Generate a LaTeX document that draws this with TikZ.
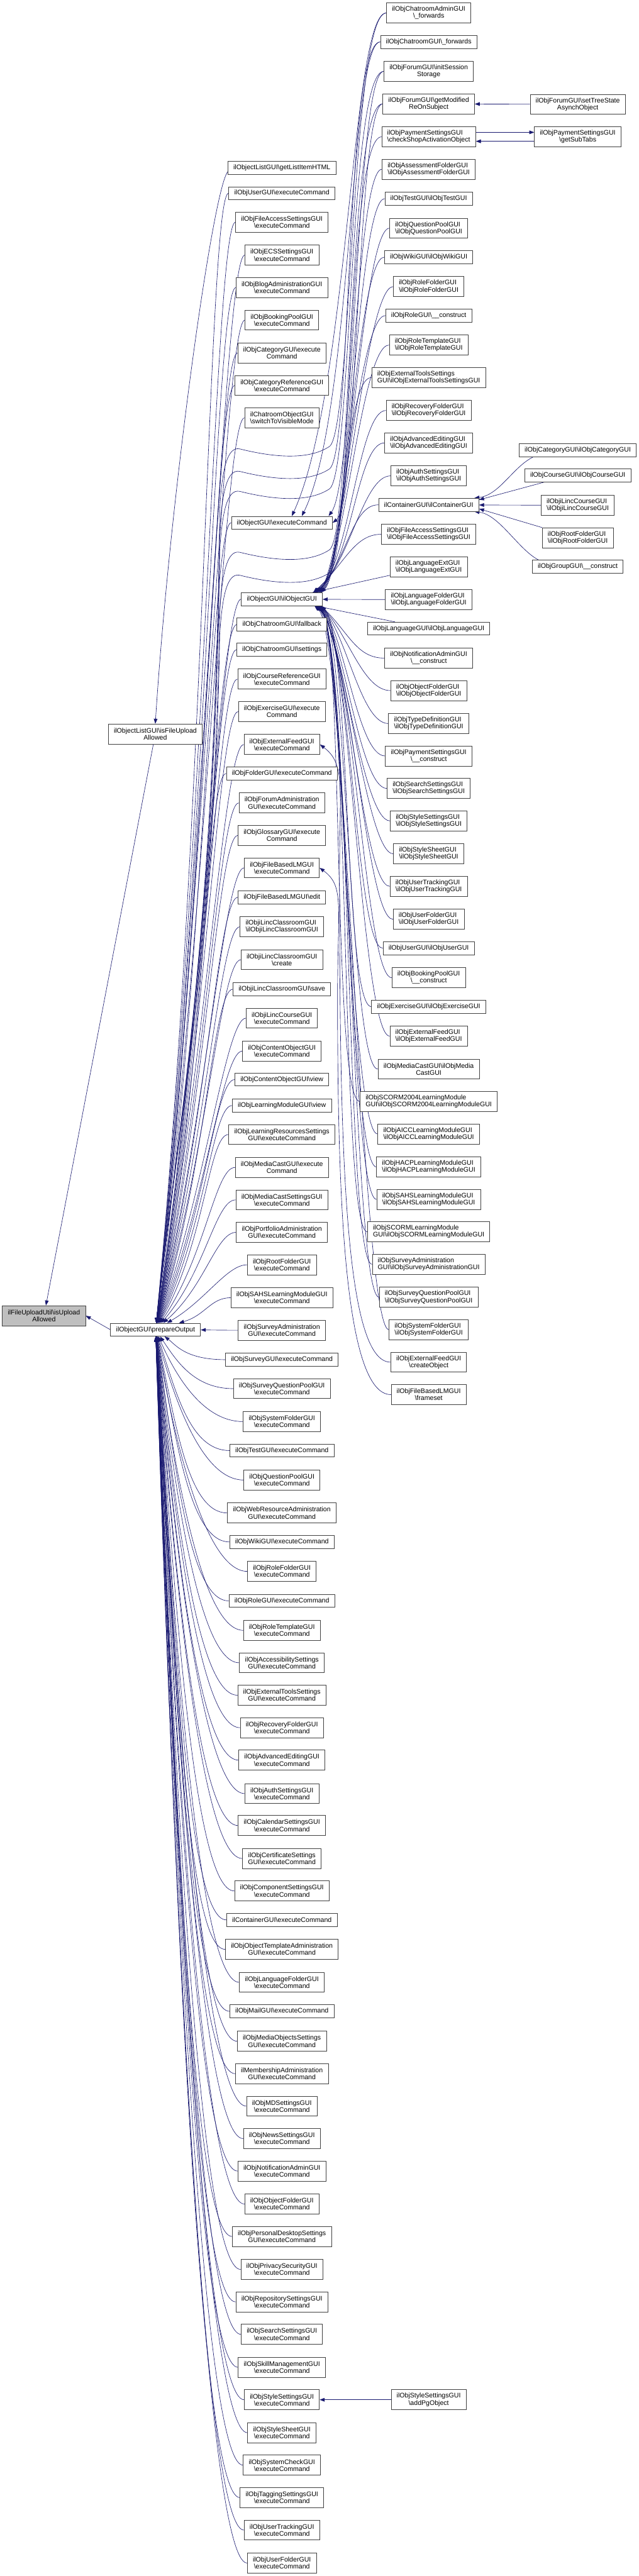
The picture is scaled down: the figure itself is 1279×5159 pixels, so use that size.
\documentclass[tikz,border=0pt]{standalone}
\usepackage{fontspec}
\setmainfont{Liberation Sans}
\usetikzlibrary{arrows.meta,calc}
\definecolor{edgeblue}{RGB}{25,25,112}
\newcommand\BSL{\textbackslash}
\pgfdeclarelayer{bg}
\pgfsetlayers{bg,main}
\begin{document}
\begin{tikzpicture}[x=0.75pt,y=-0.75pt,
  nb/.style={draw=black!75, line width=0.8pt, fill=white, font=\fontsize{10}{10.5}\selectfont, inner xsep=8.25pt, inner ysep=2pt, minimum height=19.5pt, align=center},
  nb2/.style={nb, minimum height=30pt},
  nb2l/.style={nb2, align=left},
  conn/.style={draw=edgeblue, line width=0.6pt, -{Triangle[length=7.5pt,width=5.5pt]}}]
\useasboundingbox (0,0) rectangle (1279,5159);
% ---- rank 0 / 1
\node[nb2, fill=black!25] (fU) at (88,2635) {ilFileUploadUtil\BSL isUpload\\Allowed};
\node[nb2] (fA) at (311,1470) {ilObjectListGUI\BSL isFileUpload\\Allowed};
\node[nb] (pO) at (311.5,2663) {ilObjectGUI\BSL prepareOutput};
% ---- rank 2
\node[nb] (n1) at (564.5,336) {ilObjectListGUI\BSL getListItemHTML};
\node[nb] (n2) at (564.5,387) {ilObjUserGUI\BSL executeCommand};
\node[nb2] (n3) at (564.5,445) {ilObjFileAccessSettingsGUI\\\BSL executeCommand};
\node[nb2] (n4) at (564.5,511) {ilObjECSSettingsGUI\\\BSL executeCommand};
\node[nb2] (n5) at (564.5,576) {ilObjBlogAdministrationGUI\\\BSL executeCommand};
\node[nb2] (n6) at (564.5,641) {ilObjBookingPoolGUI\\\BSL executeCommand};
\node[nb2] (n7) at (564.5,707) {ilObjCategoryGUI\BSL execute\\Command};
\node[nb2] (n8) at (564.5,772) {ilObjCategoryReferenceGUI\\\BSL executeCommand};
\node[nb2] (n9) at (564.5,837) {ilChatroomObjectGUI\\\BSL switchToVisibleMode};
\node[nb] (n10) at (564.5,1047) {ilObjectGUI\BSL executeCommand};
\node[nb] (n11) at (564.5,1200) {ilObjectGUI\BSL ilObjectGUI};
\node[nb] (n12) at (564.5,1251) {ilObjChatroomGUI\BSL fallback};
\node[nb] (n13) at (564.5,1301) {ilObjChatroomGUI\BSL settings};
\node[nb2] (n14) at (564.5,1360) {ilObjCourseReferenceGUI\\\BSL executeCommand};
\node[nb2] (n15) at (564.5,1425) {ilObjExerciseGUI\BSL execute\\Command};
\node[nb2] (n16) at (564.5,1491) {ilObjExternalFeedGUI\\\BSL executeCommand};
\node[nb] (n17) at (564.5,1549) {ilObjFolderGUI\BSL executeCommand};
\node[nb2] (n18) at (564.5,1608) {ilObjForumAdministration\\GUI\BSL executeCommand};
\node[nb2] (n19) at (564.5,1673) {ilObjGlossaryGUI\BSL execute\\Command};
\node[nb2] (n20) at (564.5,1738) {ilObjFileBasedLMGUI\\\BSL executeCommand};
\node[nb] (n21) at (564.5,1797) {ilObjFileBasedLMGUI\BSL edit};
\node[nb2l] (n22) at (564.5,1856) {ilObjiLincClassroomGUI\\\BSL ilObjiLincClassroomGUI};
\node[nb2] (n23) at (564.5,1922) {ilObjiLincClassroomGUI\\\BSL create};
\node[nb] (n24) at (564.5,1981) {ilObjiLincClassroomGUI\BSL save};
\node[nb2] (n25) at (564.5,2039) {ilObjiLincCourseGUI\\\BSL executeCommand};
\node[nb2] (n26) at (564.5,2105) {ilObjContentObjectGUI\\\BSL executeCommand};
\node[nb] (n27) at (564.5,2162) {ilObjContentObjectGUI\BSL view};
\node[nb] (n28) at (564.5,2214) {ilObjLearningModuleGUI\BSL view};
\node[nb2] (n29) at (564.5,2272) {ilObjLearningResourcesSettings\\GUI\BSL executeCommand};
\node[nb2] (n30) at (564.5,2338) {ilObjMediaCastGUI\BSL execute\\Command};
\node[nb2] (n31) at (564.5,2403) {ilObjMediaCastSettingsGUI\\\BSL executeCommand};
\node[nb2] (n32) at (564.5,2468) {ilObjPortfolioAdministration\\GUI\BSL executeCommand};
\node[nb2] (n33) at (564.5,2533) {ilObjRootFolderGUI\\\BSL executeCommand};
\node[nb2] (n34) at (564.5,2599) {ilObjSAHSLearningModuleGUI\\\BSL executeCommand};
\node[nb2] (n35) at (564.5,2664) {ilObjSurveyAdministration\\GUI\BSL executeCommand};
\node[nb] (n36) at (564.5,2723) {ilObjSurveyGUI\BSL executeCommand};
\node[nb2] (n37) at (564.5,2781) {ilObjSurveyQuestionPoolGUI\\\BSL executeCommand};
\node[nb2] (n38) at (564.5,2847) {ilObjSystemFolderGUI\\\BSL executeCommand};
\node[nb] (n39) at (564.5,2905) {ilObjTestGUI\BSL executeCommand};
\node[nb2] (n40) at (564.5,2964) {ilObjQuestionPoolGUI\\\BSL executeCommand};
\node[nb2] (n41) at (564.5,3030) {ilObjWebResourceAdministration\\GUI\BSL executeCommand};
\node[nb] (n42) at (564.5,3088) {ilObjWikiGUI\BSL executeCommand};
\node[nb2] (n43) at (564.5,3147) {ilObjRoleFolderGUI\\\BSL executeCommand};
\node[nb] (n44) at (564.5,3206) {ilObjRoleGUI\BSL executeCommand};
\node[nb2] (n45) at (564.5,3265) {ilObjRoleTemplateGUI\\\BSL executeCommand};
\node[nb2] (n46) at (564.5,3330) {ilObjAccessibilitySettings\\GUI\BSL executeCommand};
\node[nb2] (n47) at (564.5,3395) {ilObjExternalToolsSettings\\GUI\BSL executeCommand};
\node[nb2] (n48) at (564.5,3460) {ilObjRecoveryFolderGUI\\\BSL executeCommand};
\node[nb2] (n49) at (564.5,3525) {ilObjAdvancedEditingGUI\\\BSL executeCommand};
\node[nb2] (n50) at (564.5,3592) {ilObjAuthSettingsGUI\\\BSL executeCommand};
\node[nb2] (n51) at (564.5,3656) {ilObjCalendarSettingsGUI\\\BSL executeCommand};
\node[nb2] (n52) at (564.5,3722) {ilObjCertificateSettings\\GUI\BSL executeCommand};
\node[nb2] (n53) at (564.5,3787) {ilObjComponentSettingsGUI\\\BSL executeCommand};
\node[nb] (n54) at (564.5,3845) {ilContainerGUI\BSL executeCommand};
\node[nb2] (n55) at (564.5,3904) {ilObjObjectTemplateAdministration\\GUI\BSL executeCommand};
\node[nb2] (n56) at (564.5,3970) {ilObjLanguageFolderGUI\\\BSL executeCommand};
\node[nb] (n57) at (564.5,4028) {ilObjMailGUI\BSL executeCommand};
\node[nb2] (n58) at (564.5,4088) {ilObjMediaObjectsSettings\\GUI\BSL executeCommand};
\node[nb2] (n59) at (564.5,4153) {ilMembershipAdministration\\GUI\BSL executeCommand};
\node[nb2] (n60) at (564.5,4218) {ilObjMDSettingsGUI\\\BSL executeCommand};
\node[nb2] (n61) at (564.5,4283) {ilObjNewsSettingsGUI\\\BSL executeCommand};
\node[nb2] (n62) at (564.5,4348) {ilObjNotificationAdminGUI\\\BSL executeCommand};
\node[nb2] (n63) at (564.5,4414) {ilObjObjectFolderGUI\\\BSL executeCommand};
\node[nb2] (n64) at (564.5,4479) {ilObjPersonalDesktopSettings\\GUI\BSL executeCommand};
\node[nb2] (n65) at (564.5,4545) {ilObjPrivacySecurityGUI\\\BSL executeCommand};
\node[nb2] (n66) at (564.5,4610) {ilObjRepositorySettingsGUI\\\BSL executeCommand};
\node[nb2] (n67) at (564.5,4675) {ilObjSearchSettingsGUI\\\BSL executeCommand};
\node[nb2] (n68) at (564.5,4741) {ilObjSkillManagementGUI\\\BSL executeCommand};
\node[nb2] (n69) at (564.5,4806) {ilObjStyleSettingsGUI\\\BSL executeCommand};
\node[nb2] (n70) at (564.5,4872) {ilObjStyleSheetGUI\\\BSL executeCommand};
\node[nb2] (n71) at (564.5,4937) {ilObjSystemCheckGUI\\\BSL executeCommand};
\node[nb2] (n72) at (564.5,5002) {ilObjTaggingSettingsGUI\\\BSL executeCommand};
\node[nb2] (n73) at (564.5,5067) {ilObjUserTrackingGUI\\\BSL executeCommand};
\node[nb2] (n74) at (564.5,5133) {ilObjUserFolderGUI\\\BSL executeCommand};
% ---- rank 3
\node[nb2] (c1) at (858.5,26) {ilObjChatroomAdminGUI\\\BSL\_forwards};
\node[nb] (c2) at (858.5,84) {ilObjChatroomGUI\BSL\_forwards};
\node[nb2] (c3) at (858.5,143) {ilObjForumGUI\BSL initSession\\Storage};
\node[nb2] (c4) at (858.5,208) {ilObjForumGUI\BSL getModified\\ReOnSubject};
\node[nb2l] (c5) at (858.5,274) {ilObjPaymentSettingsGUI\\\BSL checkShopActivationObject};
\node[nb2l] (c6) at (858.5,339) {ilObjAssessmentFolderGUI\\\BSL ilObjAssessmentFolderGUI};
\node[nb] (c7) at (858.5,398) {ilObjTestGUI\BSL ilObjTestGUI};
\node[nb2l] (c8) at (858.5,457) {ilObjQuestionPoolGUI\\\BSL ilObjQuestionPoolGUI};
\node[nb] (c9) at (858.5,515) {ilObjWikiGUI\BSL ilObjWikiGUI};
\node[nb2l] (c10) at (858.5,574) {ilObjRoleFolderGUI\\\BSL ilObjRoleFolderGUI};
\node[nb] (c11) at (858.5,632) {ilObjRoleGUI\BSL\_\_construct};
\node[nb2l] (c12) at (858.5,691) {ilObjRoleTemplateGUI\\\BSL ilObjRoleTemplateGUI};
\node[nb2l] (c13) at (858.5,756) {ilObjExternalToolsSettings\\GUI\BSL ilObjExternalToolsSettingsGUI};
\node[nb2l] (c14) at (858.5,822) {ilObjRecoveryFolderGUI\\\BSL ilObjRecoveryFolderGUI};
\node[nb2l] (c15) at (858.5,887) {ilObjAdvancedEditingGUI\\\BSL ilObjAdvancedEditingGUI};
\node[nb2l] (c16) at (858.5,953) {ilObjAuthSettingsGUI\\\BSL ilObjAuthSettingsGUI};
\node[nb] (c17) at (858.5,1011) {ilContainerGUI\BSL ilContainerGUI};
\node[nb2l] (c18) at (858.5,1070) {ilObjFileAccessSettingsGUI\\\BSL ilObjFileAccessSettingsGUI};
\node[nb2l] (c19) at (858.5,1135) {ilObjLanguageExtGUI\\\BSL ilObjLanguageExtGUI};
\node[nb2l] (c20) at (858.5,1201) {ilObjLanguageFolderGUI\\\BSL ilObjLanguageFolderGUI};
\node[nb] (c21) at (858.5,1259) {ilObjLanguageGUI\BSL ilObjLanguageGUI};
\node[nb2] (c22) at (858.5,1318) {ilObjNotificationAdminGUI\\\BSL\_\_construct};
\node[nb2l] (c23) at (858.5,1383) {ilObjObjectFolderGUI\\\BSL ilObjObjectFolderGUI};
\node[nb2l] (c24) at (858.5,1449) {ilObjTypeDefinitionGUI\\\BSL ilObjTypeDefinitionGUI};
\node[nb2] (c25) at (858.5,1514) {ilObjPaymentSettingsGUI\\\BSL\_\_construct};
\node[nb2l] (c26) at (858.5,1579) {ilObjSearchSettingsGUI\\\BSL ilObjSearchSettingsGUI};
\node[nb2l] (c27) at (858.5,1644) {ilObjStyleSettingsGUI\\\BSL ilObjStyleSettingsGUI};
\node[nb2l] (c28) at (858.5,1710) {ilObjStyleSheetGUI\\\BSL ilObjStyleSheetGUI};
\node[nb2l] (c29) at (858.5,1775) {ilObjUserTrackingGUI\\\BSL ilObjUserTrackingGUI};
\node[nb2l] (c30) at (858.5,1841) {ilObjUserFolderGUI\\\BSL ilObjUserFolderGUI};
\node[nb] (c31) at (858.5,1899) {ilObjUserGUI\BSL ilObjUserGUI};
\node[nb2] (c32) at (858.5,1958) {ilObjBookingPoolGUI\\\BSL\_\_construct};
\node[nb] (c33) at (858.5,2016) {ilObjExerciseGUI\BSL ilObjExerciseGUI};
\node[nb2l] (c34) at (858.5,2075) {ilObjExternalFeedGUI\\\BSL ilObjExternalFeedGUI};
\node[nb2] (c35) at (858.5,2141) {ilObjMediaCastGUI\BSL ilObjMedia\\CastGUI};
\node[nb2l] (c36) at (858.5,2206) {ilObjSCORM2004LearningModule\\GUI\BSL ilObjSCORM2004LearningModuleGUI};
\node[nb2l] (c37) at (858.5,2271) {ilObjAICCLearningModuleGUI\\\BSL ilObjAICCLearningModuleGUI};
\node[nb2l] (c38) at (858.5,2337) {ilObjHACPLearningModuleGUI\\\BSL ilObjHACPLearningModuleGUI};
\node[nb2l] (c39) at (858.5,2402) {ilObjSAHSLearningModuleGUI\\\BSL ilObjSAHSLearningModuleGUI};
\node[nb2l] (c40) at (858.5,2467) {ilObjSCORMLearningModule\\GUI\BSL ilObjSCORMLearningModuleGUI};
\node[nb2l] (c41) at (858.5,2532) {ilObjSurveyAdministration\\GUI\BSL ilObjSurveyAdministrationGUI};
\node[nb2l] (c42) at (858.5,2598) {ilObjSurveyQuestionPoolGUI\\\BSL ilObjSurveyQuestionPoolGUI};
\node[nb2l] (c43) at (858.5,2663) {ilObjSystemFolderGUI\\\BSL ilObjSystemFolderGUI};
\node[nb2] (c44) at (858.5,2728) {ilObjExternalFeedGUI\\\BSL createObject};
\node[nb2] (c45) at (858.5,2793) {ilObjFileBasedLMGUI\\\BSL frameset};
\node[nb2] (s1) at (858.5,4806) {ilObjStyleSettingsGUI\\\BSL addPgObject};
% ---- rank 4
\node[nb2] (d1) at (1157,209) {ilObjForumGUI\BSL setTreeState\\AsynchObject};
\node[nb2] (d2) at (1157,274) {ilObjPaymentSettingsGUI\\\BSL getSubTabs};
\node[nb] (d3) at (1157,902) {ilObjCategoryGUI\BSL ilObjCategoryGUI};
\node[nb] (d4) at (1157,952) {ilObjCourseGUI\BSL ilObjCourseGUI};
\node[nb2l] (d5) at (1157,1012) {ilObjiLincCourseGUI\\\BSL ilObjiLincCourseGUI};
\node[nb2l] (d6) at (1157,1077) {ilObjRootFolderGUI\\\BSL ilObjRootFolderGUI};
\node[nb] (d7) at (1157,1135) {ilObjGroupGUI\BSL\_\_construct};
% ---- connectors
\begin{pgfonlayer}{bg}
\fill[white] (0,0) rectangle (1279,5159);
\draw[conn] (fA) -- (fU);
\draw[conn] (pO.west) -- (fU.east);
\draw[conn] ([yshift=-6pt]n1.west) .. controls (425,385) and (340,1000) .. (fA.north);
\foreach \i in {2,...,35} {
  \draw[conn] let \p1=(n\i.west), \p2=(pO.center) in (\p1) .. controls (\x1-30pt,\y1) and ({\x2+75pt},{\y2+0.45*(\y1-\y2)}) .. (pO);
}
\foreach \i in {36,...,74} {
  \draw[conn] let \p1=(n\i.west), \p2=(pO.center) in (\p1) .. controls (\x1-60pt,\y1) and ({\x2+30pt},{\y2+0.5*(\y1-\y2)}) .. (pO);
}
% rank-skipping callers of prepareOutput
\foreach \n/\g in {c1/899, c2/944, c3/984, c4/1106, c5/1152} {
  \draw[conn] (\n.west) .. controls +(-70,0) and (705,\g-40) .. (660,\g-5)
     .. controls (615,\g+25) and (540,\g+15) .. (480,\g)
     .. controls (455,\g-5) and (445,\g+40) .. (440,\g+120)
     .. controls (430,1900) and (350,2300) .. (pO);
}
% callers of ilObjectGUI::executeCommand
\draw[conn] (c1.west) .. controls +(-70,0) and (700,780) .. ([xshift=15pt]n10.north);
\draw[conn] (c2.west) .. controls +(-60,0) and (705,830) .. ([xshift=30pt]n10.north);
\draw[conn] (c3.west) .. controls +(-55,0) and (712,960) .. ([xshift=-6pt]n10.north east);
\draw[conn] (c4.west) .. controls +(-50,0) and (715,1010) .. (n10.east);
% callers of ilObjectGUI constructor
\foreach \n/\s/\px in {c6/-2/700, c7/-3/697, c8/-4/694, c9/-5/691, c10/-6/688, c11/-7/685, c12/-8/690, c13/-9/695, c14/-10/700, c15/-11/705, c16/-12/700, c17/-13/695, c18/-14/690} {
  \draw[conn] (\n.west) .. controls +(-55,0) and (\px,1130) .. ([xshift=\s pt]n11.north east);
}
\draw[conn] (c19) -- (n11);
\draw[conn] (c20) -- (n11);
\draw[conn] (c21) -- (n11);
\foreach \n/\s/\px in {c22/-2/700, c23/-3/697, c24/-4/694, c25/-5/691, c26/-6/688, c27/-7/685, c28/-8/690, c29/-9/695, c30/-10/700, c31/-11/705, c32/-12/708, c33/-2/702, c34/-3/698, c35/-4/693, c36/-5/688, c37/-6/684, c38/-7/690, c39/-8/696, c40/-9/702, c41/-10/706, c42/-11/700, c43/-12/694} {
  \draw[conn] (\n.west) .. controls +(-55,0) and (\px,1270) .. ([xshift=\s pt]n11.south east);
}
% other connectors
\draw[conn] (c44.west) .. controls (690,2728) and (680,2300) .. (680,1750) .. controls (680,1575) and (692,1530) .. (n16.east);
\draw[conn] (c45.west) .. controls (690,2793) and (676,2400) .. (676,2000) .. controls (676,1810) and (690,1775) .. (n20.east);
\draw[conn] (s1) -- (n69);
\draw[conn] (d1) -- (c4);
\draw[conn] ([yshift=6.75pt]c5.east) -- ([yshift=6.75pt]d2.west);
\draw[conn] ([yshift=-6.75pt]d2.west) -- ([yshift=-6.75pt]c5.east);
\draw[conn] ([xshift=21pt]d3.south west) .. controls +(-40,20) and +(50,-6) .. ([xshift=-7pt]c17.north east);
\draw[conn] ([xshift=30pt]d4.south west) -- ([yshift=7.5pt]c17.east);
\draw[conn] (d5) -- (c17);
\draw[conn] (d6.north west) -- ([yshift=-6pt]c17.east);
\draw[conn] ([xshift=10pt]d7.north west) .. controls +(-40,-20) and +(50,6) .. ([xshift=-7pt]c17.south east);
\end{pgfonlayer}
\end{tikzpicture}
\end{document}
